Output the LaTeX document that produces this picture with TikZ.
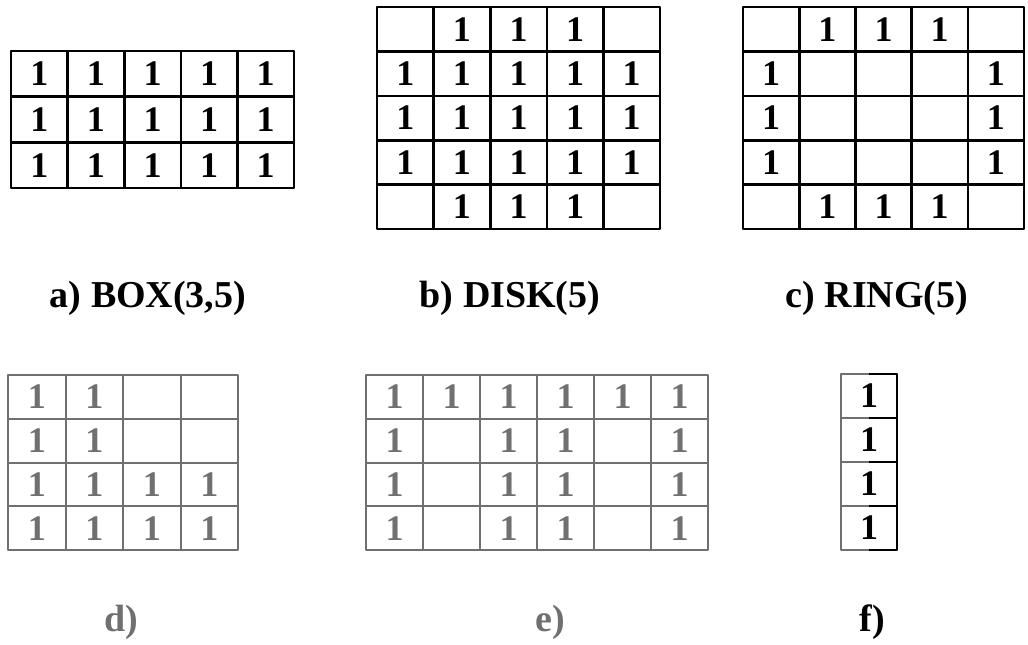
\documentclass[tikz,border=0pt]{standalone}
\usepackage{fontspec}
\setmainfont{Liberation Serif}
\definecolor{fade}{HTML}{707070}
\tikzset{
  gridline/.style={line width=2.6pt, line join=round},
  fadeline/.style={line width=2pt, draw=fade, line join=round},
  digit/.style={font=\bfseries\fontsize{36}{36}\selectfont, inner sep=0pt},
  fadedigit/.style={digit, text=fade},
  caption/.style={font=\bfseries\fontsize{38}{38}\selectfont, inner sep=0pt},
  fadecaption/.style={caption, text=fade}
}
\begin{document}
\begin{tikzpicture}[x=1pt,y=-1pt]
\useasboundingbox (0,0) rectangle (1028,645);
% ---------- a) BOX(3,5)
\draw[gridline] (11,51) rectangle (294,188);
\foreach \i in {1,...,4} \draw[gridline] ({11+\i*56.6},51) -- ({11+\i*56.6},188);
\foreach \j in {1,2} \draw[gridline] (11,{51+\j*45.67}) -- (294,{51+\j*45.67});
\foreach \r in {1,2,3} \foreach \c in {1,...,5}
  \node[digit] (a-\r-\c) at ({11+(\c-0.5)*56.6},{51+(\r-0.5)*45.67}) {1};
\node[caption] (capa) at (148,298) {a) BOX(3,5)};
% ---------- b) DISK(5)
\draw[gridline] (377,7) rectangle (660,229);
\foreach \i in {1,...,4} \draw[gridline] ({377+\i*56.6},7) -- ({377+\i*56.6},229);
\foreach \j in {1,...,4} \draw[gridline] (377,{7+\j*44.4}) -- (660,{7+\j*44.4});
\foreach \r/\c in {1/2,1/3,1/4,2/1,2/2,2/3,2/4,2/5,3/1,3/2,3/3,3/4,3/5,4/1,4/2,4/3,4/4,4/5,5/2,5/3,5/4}
  \node[digit] (b-\r-\c) at ({377+(\c-0.5)*56.6},{7+(\r-0.5)*44.4}) {1};
\node[caption] (capb) at (510,298) {b) DISK(5)};
% ---------- c) RING(5)
\draw[gridline] (743,7) rectangle (1024,229);
\foreach \i in {1,...,4} \draw[gridline] ({743+\i*56.2},7) -- ({743+\i*56.2},229);
\foreach \j in {1,...,4} \draw[gridline] (743,{7+\j*44.4}) -- (1024,{7+\j*44.4});
\foreach \r/\c in {1/2,1/3,1/4,2/1,2/5,3/1,3/5,4/1,4/5,5/2,5/3,5/4}
  \node[digit] (c-\r-\c) at ({743+(\c-0.5)*56.2},{7+(\r-0.5)*44.4}) {1};
\node[caption] (capc) at (877,298) {c) RING(5)};
% ---------- d)
\draw[fadeline] (8,375) rectangle (238,550);
\foreach \i in {1,2,3} \draw[fadeline] ({8+\i*57.5},375) -- ({8+\i*57.5},550);
\foreach \j in {1,2,3} \draw[fadeline] (8,{375+\j*43.75}) -- (238,{375+\j*43.75});
\foreach \r/\c in {1/1,1/2,2/1,2/2,3/1,3/2,3/3,3/4,4/1,4/2,4/3,4/4}
  \node[fadedigit] (d-\r-\c) at ({8+(\c-0.5)*57.5},{375+(\r-0.5)*43.75}) {1};
\node[fadecaption] (capd) at (121,622) {d)};
% ---------- e)
\draw[fadeline] (366,375) rectangle (708,550);
\foreach \i in {1,...,5} \draw[fadeline] ({366+\i*57},375) -- ({366+\i*57},550);
\foreach \j in {1,2,3} \draw[fadeline] (366,{375+\j*43.75}) -- (708,{375+\j*43.75});
\foreach \r/\c in {1/1,1/2,1/3,1/4,1/5,1/6,2/1,2/3,2/4,2/6,3/1,3/3,3/4,3/6,4/1,4/3,4/4,4/6}
  \node[fadedigit] (e-\r-\c) at ({366+(\c-0.5)*57},{375+(\r-0.5)*43.75}) {1};
\node[fadecaption] (cape) at (550,622) {e)};
% ---------- f)
\draw[fadeline] (869,374) -- (841,374) -- (841,550) -- (869,550);
\draw[gridline] (869,374) -- (897,374) -- (897,550) -- (869,550);
\foreach \j in {1,2,3} {
  \draw[fadeline] (841,{374+\j*44}) -- (869,{374+\j*44});
  \draw[gridline] (869,{374+\j*44}) -- (897,{374+\j*44});
}
\foreach \r in {1,...,4}
  \node[digit] (f-\r-1) at (869,{374+(\r-0.5)*44}) {1};
\node[caption] (capf) at (872,622) {f)};
\end{tikzpicture}
\end{document}
